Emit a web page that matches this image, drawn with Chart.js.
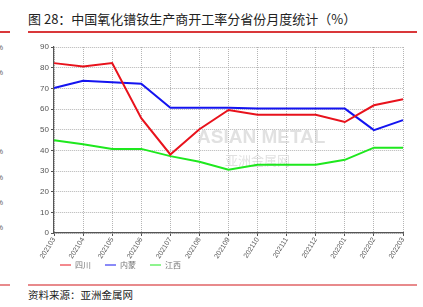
<!DOCTYPE html>
<html>
<head>
<meta charset="utf-8">
<script src="https://cdn.jsdelivr.net/npm/chart.js@4.4.1/dist/chart.umd.min.js"></script>
<style>
  body { margin: 0; width: 423px; height: 307px; background: #fff; position: relative; overflow: hidden; font-family: "Noto Sans CJK SC", sans-serif; }
  .title { position: absolute; left: 28px; top: 9px; font-size: 13px; color: #222; white-space: nowrap; }
  .rule { position: absolute; height: 1.5px; background: #d9383a; }
  .source { position: absolute; left: 28px; top: 287px; font-size: 10.5px; color: #222; }
  .frag { position: absolute; left: -4px; font-size: 8px; color: #666; font-family: "Liberation Sans", sans-serif; }
  #wrap { position: absolute; left: 28px; top: 36px; width: 389px; height: 255px; }
</style>
</head>
<body>
<div class="title">图 28：中国氧化镨钕生产商开工率分省份月度统计（%）</div>
<div class="rule" style="left:28px; top:31px; width:389px;"></div>
<div class="rule" style="left:0; top:31px; width:10px;"></div>
<div class="rule" style="left:28px; top:284px; width:389px; background:#e88a8c;"></div>
<div class="rule" style="left:0; top:284px; width:10px; background:#e88a8c;"></div>
<div class="source">资料来源：亚洲金属网</div>
<div class="frag" style="top:43px">%</div>
<div class="frag" style="top:68px">%</div>
<div class="frag" style="top:147px">%</div>
<div class="frag" style="top:173px">%</div>
<div class="frag" style="top:198px">%</div>
<div class="frag" style="top:223px">%</div>
<div id="wrap"><canvas id="chart"></canvas></div>
<script>
const months = ["202103","202104","202105","202106","202107","202108","202109","202110","202111","202112","202201","202202","202203"];
const sichuan = [82.2, 80.6, 82.2, 55.6, 38, 50.2, 59.5, 57.2, 57.2, 57.2, 53.7, 61.8, 64.7];
const neimeng = [70.2, 73.7, 73, 72.2, 60.6, 60.6, 60.6, 60.2, 60.2, 60.2, 60.2, 49.8, 54.6];
const jiangxi = [44.9, 42.9, 40.7, 40.7, 37.2, 34.5, 30.6, 33, 33, 33, 35.4, 41.3, 41.3];
const seriesNames = ["四川", "内蒙", "江西"];

// faint "ASIAN METAL" watermark behind the lines
const watermark = {
  id: "watermark",
  beforeDatasetsDraw(chart) {
    const ctx = chart.ctx;
    ctx.save();
    ctx.fillStyle = "rgba(205,205,205,0.6)";
    ctx.font = "bold 19px 'Liberation Sans', sans-serif";
    ctx.textBaseline = "middle";
    ctx.fillText("ASIAN METAL", 169, 102);
    ctx.font = "13px 'Noto Sans CJK SC', sans-serif";
    ctx.fillText("亚洲金属网", 197, 124);
    ctx.restore();
  }
};

// nudge the legend up and to the right, tucked under the axis labels
const legendShift = {
  id: "legendShift",
  afterLayout(chart) {
    const lg = chart.legend;
    lg.left += 18; lg.right += 18;
    lg.top -= 12; lg.bottom -= 12;
  }
};

const chart = document.getElementById("chart");

new Chart(chart, {
  type: "line",
  data: {
    labels: months,
    datasets: [
      { label: seriesNames[0], data: sichuan, borderColor: "#e8121c", backgroundColor: "#e8121c" },
      { label: seriesNames[1], data: neimeng, borderColor: "#1414f0", backgroundColor: "#1414f0" },
      { label: seriesNames[2], data: jiangxi, borderColor: "#1ee81e", backgroundColor: "#1ee81e" }
    ]
  },
  options: {
    responsive: true,
    maintainAspectRatio: false,
    animation: false,
    layout: { padding: { top: 11, right: 14, left: 0, bottom: 0 } },
    elements: {
      line: { borderWidth: 2, tension: 0 },
      point: { radius: 0 }
    },
    scales: {
      x: {
        offset: false,
        grid: { color: "#b5b5b5", tickLength: 3, tickColor: "#555" },
        border: { color: "#555", width: 1.2, dash: [1, 1] },
        ticks: { color: "#555", font: { size: 7, family: "Liberation Sans" }, minRotation: 58, maxRotation: 58, padding: 0, autoSkip: false },
        afterFit(s) { s.height = 26; }
      },
      y: {
        min: 0, max: 90,
        grid: { color: "#b5b5b5", tickLength: 3, tickColor: "#555" },
        border: { color: "#555", width: 1.2, dash: [1, 1] },
        ticks: { stepSize: 10, color: "#555", font: { size: 8, family: "Liberation Sans" }, padding: 2 },
        afterFit(s) { s.width = 26; }
      }
    },
    plugins: {
      legend: {
        position: "bottom",
        align: "start",
        labels: {
          usePointStyle: true,
          pointStyle: "line",
          pointStyleWidth: 11,
          boxWidth: 11,
          padding: 14,
          color: "#777",
          font: { size: 8, family: "Noto Sans CJK SC" }
        }
      },
      tooltip: { enabled: false }
    }
  },
  plugins: [watermark, legendShift]
});
</script>
</body>
</html>
